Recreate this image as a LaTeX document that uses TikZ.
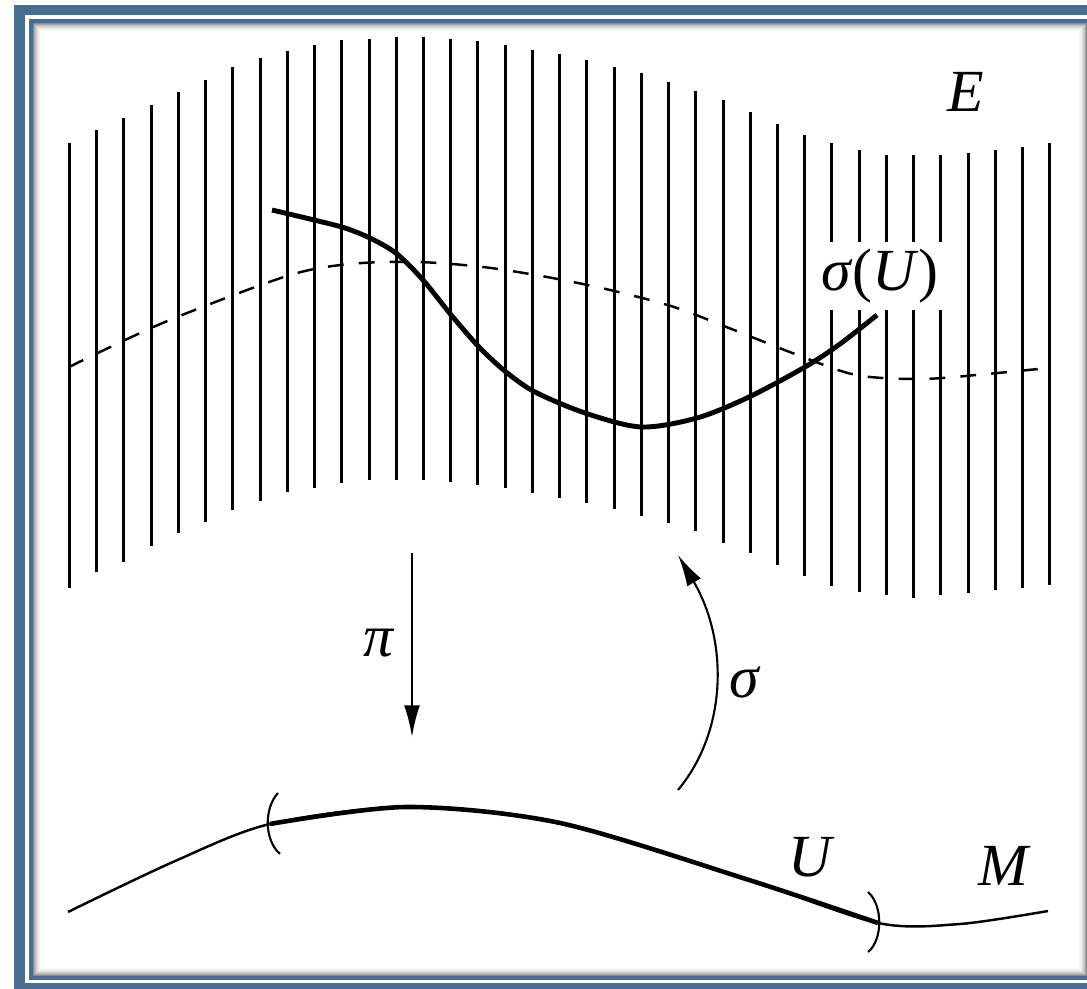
\documentclass[tikz,border=0pt]{standalone}
\usepackage{fontspec}
\setmainfont{Liberation Serif}
\usetikzlibrary{arrows.meta}
\definecolor{framebl}{RGB}{72,110,145}

\begin{document}
\begin{tikzpicture}[x=0.01cm, y=-0.01cm,
    fib/.style={line width=0.85pt},
    sec/.style={line width=1.4pt},
    base/.style={line width=0.7pt},
    thickbase/.style={line width=1.3pt},
    brk/.style={line width=0.6pt},
    ar/.style={-{Latex[length=9pt,width=4.5pt]}, line width=0.6pt},
    lbl/.style={font=\fontsize{17}{20}\selectfont\itshape, inner sep=1pt},
  ]
  \useasboundingbox (0,0) rectangle (1087,989);
  % frame
  \draw[framebl, line width=0.105cm] (19.5,10) rectangle (1096,988.5);
  \draw[framebl, line width=0.04cm] (31,21.5) rectangle (1089,978);
  \foreach \d/\c in {0.5/45,1.5/35,2.5/26,3.5/19,4.5/13,5.5/8,6.5/5,7.5/2}
    \draw[black!\c, line width=0.01cm] (33+\d,23+\d) rectangle (1087-\d,976-\d);

  % fibres of E
  \foreach \t/\b [count=\k from 0] in {143/588,130/572,118/562,105/546,92/533,
      80/522,67/510,58/501,51/492,45/488,40/483,39/480,37/480,37/480,39/482,
      41/485,45/488,50/493,54/498,60/503,67/509,73/516,82/523,91/531,100/543,
      112/553,124/565,135/576,143/586,150/592,155/595,155/598,155/595,153/593,
      150/590,147/588,143/585}
    \draw[fib] ({69.5+27.23*\k},\t) -- ({69.5+27.23*\k},\b);

  % dashed curve
  \draw[base, dash pattern=on 4.5pt off 4.3pt] plot[smooth] coordinates {
      (69,367) (165,322) (287,276) (350,264) (417,262) (483,267) (547,277)
      (610,290) (674,307) (734,330) (795,354) (856,375) (922,379) (987,374)
      (1048,368)};

  % section
  \node[lbl, fill=white, inner sep=2pt] (secl) at (880,276) {σ\textup{(}U\textup{)}};
  \draw[sec] plot[smooth] coordinates {
      (272,210) (314,220) (345,228) (372,239) (397,254) (423,280) (452,316)
      (479,347) (506,372) (535,392) (585,413) (641,427) (697,418) (749,397)
      (805,367) (840,344) (877,315)};
  \node[lbl] (el) at (966,92) {E};

  % maps
  \coordinate (pis) at (412,553);
  \coordinate (pit) at (412,737);
  \draw[ar] (pis) -- (pit);
  \node[lbl] (pil) at (378,643) {π};
  \coordinate (sgs) at (678,790);
  \coordinate (sgt) at (678,555);
  \draw[ar] (sgs) .. controls (728,730) and (728,640) .. (sgt);
  \node[lbl] (sgl) at (744,682) {σ};

  % base M with U
  \draw[base] plot[smooth] coordinates {
      (68,912) (173,862) (270,824) (407,807) (560,823) (749,880) (878,923)
      (960,924) (1048,911)};
  \draw[thickbase] plot[smooth] coordinates {
      (270,824) (407,807) (560,823) (749,880) (878,923)};
  \draw[brk] (278,793) .. controls (264,808) and (264,840) .. (280,854);
  \draw[brk] (868,892) .. controls (883,905) and (883,940) .. (868,952);
  \node[lbl] (ul) at (810,857) {U};
  \node[lbl] (ml) at (1003,866) {M};
\end{tikzpicture}
\end{document}
